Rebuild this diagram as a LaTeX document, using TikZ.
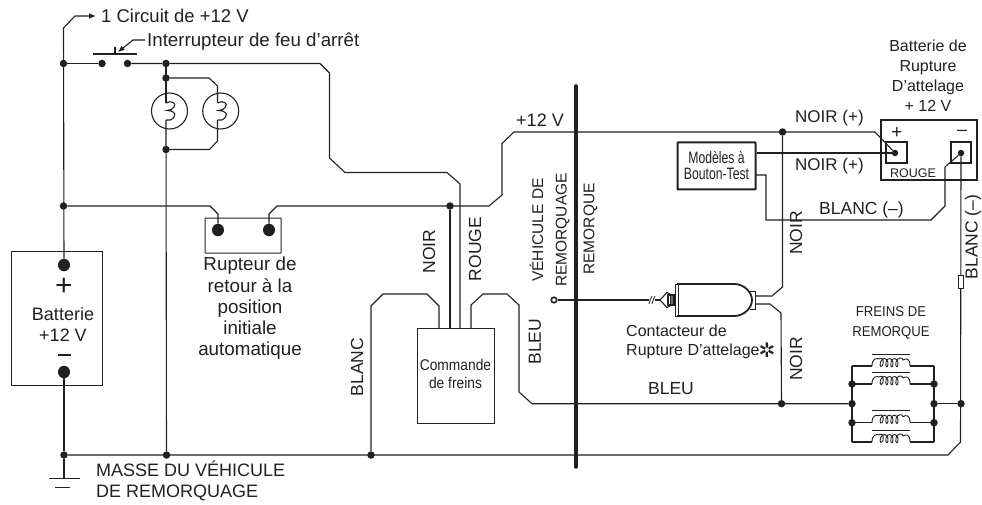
\documentclass[tikz,border=0pt]{standalone}
\usepackage{fontspec}
\setmainfont{Liberation Sans}
\usetikzlibrary{arrows.meta,shapes.geometric}
\definecolor{ink}{HTML}{231F20}
\tikzset{
  wire/.style={draw=ink,line width=1.1pt,line join=miter},
  box/.style={draw=ink,line width=1pt},
  jdot/.style={circle,fill=ink,inner sep=0pt,minimum size=7.5pt},
  bigdot/.style={ellipse,fill=ink,inner sep=0pt,minimum width=12pt,minimum height=12.5pt},
  lbl/.style={font=\fontsize{18}{21}\selectfont,text=ink,inner sep=0pt,align=center},
  capl/.style={font=\fontsize{17.5}{21}\selectfont,text=ink,inner sep=0pt,align=center},
  small/.style={font=\fontsize{16}{20}\selectfont,text=ink,inner sep=0pt,align=center},
  tiny/.style={font=\fontsize{15.5}{23.5}\selectfont,text=ink,inner sep=0pt,align=center},
  coil/.pic={
    \draw[wire,line width=0.9pt] (-19,0) .. controls (-19,-8) and (-14,-8) .. (-12,-7)
      .. controls (-9,-9) and (-7,-7) .. (-8,-2) .. controls (-9,2) and (-12,1) .. (-10.5,-4)
      .. controls (-9,-9) and (-3,-9) .. (-3,-2) .. controls (-3,2) and (-6,2) .. (-5,-4)
      .. controls (-4,-9) and (2,-9) .. (2,-2) .. controls (2,2) and (-1,2) .. (0,-4)
      .. controls (1,-9) and (7,-9) .. (7,-2) .. controls (7,2) and (4,2) .. (5,-4)
      .. controls (6,-9) and (12,-9) .. (12,-6) .. controls (15,-8) and (19,-8) .. (19,0);
    \draw[ink,line width=0.9pt] (-19,-12) -- (18.5,-12);
  }
}
\begin{document}
\begin{tikzpicture}[x=1pt,y=-1pt]
\useasboundingbox (0,0) rectangle (982,505);
% barrier
\draw[ink,line width=3.6pt,line cap=round] (576,86) -- (576,467);

% junctions
\foreach \n/\x/\y in {ja/63.5/63.5,jb/63.5/206,jc/166/63.5,jd/166/78,je/166/149.5,
  jf/450/206,jg/64/455,jh/166.5/455,ji/371/455,jj/782.5/132,jk/781.5/403.7,
  jl/852/384,jm/852/403.7,jn/852/422.7,jo/934/384,jp/934/403.7,jq/934/422.7,jr/961/403.7,
  sa/102/63.5,sb/127.5/63.5}
  \node[jdot] (\n) at (\x,\y) {};
\foreach \n/\x/\y in {ra/218/230,rb/269/230,ba/64/265,bb/64/372}
  \node[bigdot] (\n) at (\x,\y) {};

% boxes
\node[box,minimum width=91pt,minimum height=134pt,inner sep=0pt] (batt) at (56.5,318.5) {};
\node[box,minimum width=76pt,minimum height=35pt,inner sep=0pt,rounded corners=0.5pt] (rupt) at (243,235.5) {};
\node[box,minimum width=77pt,minimum height=95pt,inner sep=0pt] (cmd) at (455.5,375.5) {};
\node[draw=ink,line width=2pt,minimum width=78pt,minimum height=47pt,inner sep=0pt,rounded corners=0.5pt] (test) at (716.5,166) {};
\node[draw=ink,line width=1.2pt,minimum width=96pt,minimum height=60pt,inner sep=0pt] (bk) at (929,150) {};
\node[draw=ink,line width=1.6pt,minimum width=21pt,minimum height=21pt,inner sep=0pt] (bkp) at (896.5,152.5) {};
\node[draw=ink,line width=1.6pt,minimum width=20pt,minimum height=21pt,inner sep=0pt] (bkm) at (961,152.5) {};
\node[jdot,minimum size=6.5pt] (tp) at (895,153) {};
\node[jdot,minimum size=6.5pt] (tm) at (961,153) {};

% connectors
\coordinate (circ) at (96,16);
\draw[wire,-{Latex[length=7pt,width=6pt]}] (ba) -- (63.5,28) -- (75,16) -- (circ);
\draw[wire] (ja) -- (sa);
\draw[wire] (sb) -- (jc) -- (320,63.5) -- (329.5,73) -- (329.5,158) -- (345,172.5) -- (447,172.5) -- (460,184) -- (460,328);
\draw[wire] (jb) -- (210,206) -- (218,214) -- (ra);
\draw[wire] (rb) -- (269,214) -- (277,206) -- (489,206) -- (502,195) -- (502,143.5) -- (514,132) -- (875,132) -- (tp);
\draw[wire] (jf) -- (450,328);
\draw[wire] (bb) -- (jg) -- (64,478);
\draw[wire] (jg) -- (948,455) -- (960.5,442) -- (tm);
\draw[wire] (ji) -- (371,306) -- (383,294) -- (427,294) -- (439,306) -- (439,328);
\draw[wire] (471,328) -- (471,305) -- (483,294) -- (507,294) -- (519,305) -- (519,392) -- (532,403.7) -- (jm);
\draw[wire] (jc) -- (166,103);
\draw[wire] (166,120) -- (jh);
\draw[wire] (jd) -- (209,78) -- (217.5,86) -- (217.5,103);
\draw[wire] (217.5,120) -- (217.5,141) -- (209.5,149.5) -- (je);
% test box
\draw[wire] (test.east |- tp) -- (tp);
\draw[wire] (756,175) -- (766,175) -- (766,220) -- (931,220) -- (945,206) -- (945,167) -- (tm);
% NOIR from contacteur
\draw[wire] (jj) -- (782.5,287) -- (772,296) -- (755,296);
\draw[wire] (755,304) -- (770,304) -- (781,313) -- (jk);
% contact wire
\node[circle,draw=ink,line width=1.6pt,fill=white,inner sep=0pt,minimum size=5.5pt] (pin) at (554,300) {};
\draw[wire] (pin) -- (649,300);
\draw[wire] (655,300) -- (660,300);
\draw[ink,line width=0.8pt] (649,304) .. controls (650,300) and (651,298) .. (652,296);
\draw[ink,line width=0.8pt] (652,304) .. controls (653,300) and (654,298) .. (655,296);
% connector plug
\draw[wire] (660,300) -- (667,292.5) -- (672,295) -- (672,305) -- (667,307.5) -- cycle;
\draw[wire] (668,295) rectangle (674,305);
\draw[ink,line width=0.8pt] (670.5,295) -- (670.5,305);
\draw[ink,line width=1pt] (675,284.5) rectangle (678,316);
\draw[ink,line width=1.8pt] (677,284) -- (734,284) .. controls (745,284) and (752,293) .. (752,300) .. controls (752,307) and (745,316) .. (734,316) -- (677,316);
\draw[ink,line width=0.9pt] (750,291) -- (755.5,291) -- (755.5,309) -- (750,309);
% brake wiring
\draw[wire] (852,366) -- (852,442);
\draw[wire] (934,366) -- (934,442);
\draw[wire] (jk) -- (jm);
\draw[wire] (jp) -- (jr);
\foreach \y in {366,384,422.7,442}{
  \draw[wire] (852,\y) -- (872,\y);
  \draw[wire] (910,\y) -- (934,\y);
  \pic at (891,\y) {coil};
}
% fuse
\node[draw=ink,fill=white,line width=0.9pt,minimum width=5.5pt,minimum height=13pt,inner sep=0pt] (fuse) at (960.7,281.5) {};
% switch
\draw[ink,line width=1.6pt] (93,54) -- (137,54);
\draw[ink,line width=1.3pt] (115,47) -- (115,54);
\coordinate (sw) at (118,52);
\draw[wire,-{Latex[length=6.5pt,width=5.5pt]}] (145,40) -- (133,40) -- (sw);
% lamps
\foreach \c/\w in {169.5/166,220.7/217.5}{
  \draw[ink,line width=1.1pt] (\c,111) circle[radius=18];
  \draw[wire] (\w,103) .. controls (\w+5,100) and (\w+11,103) .. (\w+8,107) .. controls (\w+7,109) and (\w+4,110.5) .. (\w+1,110.5)
     .. controls (\w+6,110.5) and (\w+11,113) .. (\w+8,117) .. controls (\w+6,120) and (\w+3,121) .. (\w,120);
}
% ground
\draw[ink,line width=1pt] (49,478) -- (80,478);
\draw[ink,line width=0.8pt] (55,487) -- (70,487);

% texts
\node[lbl,anchor=west,font=\fontsize{18.5}{21}\selectfont] (t1) at (101,16) {1 Circuit de +12 V};
\node[lbl,anchor=west,font=\fontsize{18.7}{21}\selectfont] (t2) at (147,42) {Interrupteur de feu d’arrêt};
\node[small] (t3) at (928,76) {Batterie de\\Rupture\\D’attelage\\+ 12 V};
\node[lbl] (t4) at (540,120) {+12 V};
\node[capl,anchor=west,font=\fontsize{17}{21}\selectfont] (t5) at (795,118) {NOIR (+)};
\node[capl,anchor=west,font=\fontsize{17}{21}\selectfont] (t6) at (795,166) {NOIR (+)};
\node[capl,anchor=west] (t7) at (819,210) {BLANC (–)};
\node[font=\fontsize{16.5}{16}\selectfont,text=ink,inner sep=0pt,align=center,xscale=0.74] (t8) at (716.5,166) {Modèles à\\Bouton-Test};
\node[tiny,font=\fontsize{12.5}{17}\selectfont] (t9) at (913,172.7) {ROUGE};
\node[font=\fontsize{19}{19}\selectfont,text=ink,inner sep=0pt] (t10) at (897,133) {+};
\node[font=\fontsize{18}{18}\selectfont,text=ink,inner sep=0pt] (t11) at (962,133) {–};
\node[capl,rotate=90] (t12) at (429,251.7) {NOIR};
\node[capl,rotate=90] (t13) at (475,249) {ROUGE};
\node[tiny,rotate=90] (t14) at (549.5,230) {VÉHICULE DE\\REMORQUAGE};
\node[tiny,rotate=90] (t15) at (590.5,229) {REMORQUE};
\node[capl,rotate=90] (t16) at (535,341.7) {BLEU};
\node[capl,rotate=90] (t17) at (357,367) {BLANC};
\node[capl,rotate=90] (t18) at (796,233) {NOIR};
\node[capl,rotate=90] (t19) at (796,359) {NOIR};
\node[capl,rotate=90] (t20) at (973,237) {BLANC (–)};
\node[capl] (t21) at (671,389) {BLEU};
\node[small,anchor=west,align=left,font=\fontsize{16}{19}\selectfont] (t22) at (626,341.5) {Contacteur de\\Rupture D’attelage};
\node[font=\fontsize{20}{20}\selectfont,text=ink,inner sep=0pt] (t23) at (767,350) {\fontspec{DejaVu Sans}✲};
\node[tiny,font=\fontsize{14.3}{19.5}\selectfont,xscale=0.92] (t24) at (891,323) {FREINS DE\\REMORQUE};
\node[lbl,font=\fontsize{18.8}{21.3}\selectfont] (t25) at (250,308.5) {Rupteur de\\retour à la\\position\\initiale\\automatique};
\node[lbl] (t26) at (63,324) {Batterie\\+12 V};
\node[font=\fontsize{30}{30}\selectfont,text=ink,inner sep=0pt] (t27) at (64,287) {+};
\draw[ink,line width=1.6pt] (58,355) -- (71,355);
\node[small,font=\fontsize{15.5}{18}\selectfont,xscale=0.89] (t28) at (455.5,373.7) {Commande\\de freins};
\node[lbl,anchor=west,align=left] (t29) at (96,481) {MASSE DU VÉHICULE\\DE REMORQUAGE};
\end{tikzpicture}
\end{document}
